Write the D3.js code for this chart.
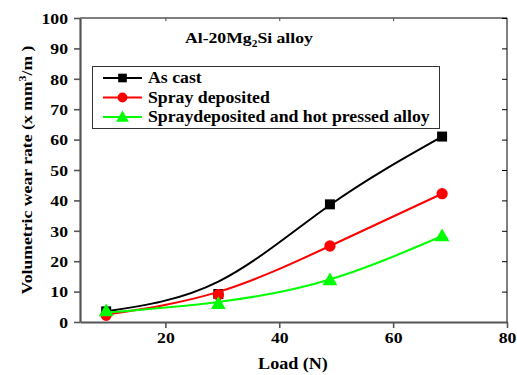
<!DOCTYPE html>
<html><head><meta charset="utf-8">
<script src="https://cdn.jsdelivr.net/npm/d3@7"></script>
<style>
body{margin:0;background:#fff;}
svg text{font-family:"Liberation Serif","Times New Roman",Times,serif;font-weight:bold;fill:#000;}
</style></head>
<body><svg id="c" width="517" height="375"></svg>
<script>
// Data
const loads = [9.6, 29.3, 48.9, 68.6];
const asCast = [3.5, 9.2, 38.7, 61.0];
const sprayDep = [2.2, 9.0, 25.0, 42.2];
const sprayHot = [3.6, 6.0, 13.8, 28.3];
// fitted trend curves (as drawn in the reference)
const asCastFit = [3.5, 13.3, 38.5, 61.0];
const sprayDepFit = [2.4, 9.9, 25.0, 42.2];
const sprayHotFit = [3.1, 6.6, 14.0, 28.3];
const xTicks = [20, 40, 60, 80];
const yTicks = [0, 10, 20, 30, 40, 50, 60, 70, 80, 90, 100];
const seriesNames = ["As cast", "Spray deposited", "Spraydeposited and hot pressed alloy"];
const seriesColors = ["#000000", "#ff0000", "#00ff00"];
const seriesMarkers = ["square", "circle", "triangle"];

const FONT = '"Liberation Serif","Times New Roman",Times,serif';
const svg = d3.select("#c");
const m = {l:80, r:10, t:18, b:53};
const W = 517, H = 375;
const x = d3.scaleLinear().domain([5, 80]).range([m.l, W - m.r]);
const y = d3.scaleLinear().domain([0, 100]).range([H - m.b, m.t]);

// helper: horizontally stretched text (reference font is wide)
function wideText(px, py, size, sx, rot) {
  const g = svg.append("g").attr("transform", `translate(${px},${py})` + (rot ? ` rotate(${rot})` : "") + ` scale(${sx},1)`);
  return g.append("text").style("font-family", FONT).style("font-size", size + "px");
}

// frame: top & right thin black
svg.append("line").attr("x1", x(5)).attr("x2", x(80)).attr("y1", y(100)).attr("y2", y(100)).attr("stroke","#000").attr("stroke-width",1);
svg.append("line").attr("x1", x(80)).attr("x2", x(80)).attr("y1", y(100)).attr("y2", y(0)).attr("stroke","#000").attr("stroke-width",1);
// right inward ticks
svg.append("g").attr("transform", `translate(${x(80)},0)`)
  .call(d3.axisLeft(y).tickValues(yTicks).tickSize(5).tickFormat(""))
  .call(g => { g.select(".domain").remove(); g.selectAll("line").attr("stroke","#000"); });
// top inward ticks
svg.append("g").attr("transform", `translate(0,${y(100)})`)
  .call(d3.axisBottom(x).tickValues([20,40,60]).tickSize(3).tickFormat(""))
  .call(g => { g.select(".domain").remove(); g.selectAll("line").attr("stroke","#444"); });

const TS = 1.22; // tick label stretch
// left axis
const gy = svg.append("g").attr("transform", `translate(${x(5)},0)`)
  .call(d3.axisLeft(y).tickValues(yTicks).tickSize(6).tickSizeOuter(0));
gy.select(".domain").attr("stroke","#555").attr("stroke-width",2.2);
gy.selectAll(".tick line").attr("stroke","#555").attr("stroke-width",1.6);
gy.selectAll(".tick text").style("font-size","14.5px").style("font-family", FONT)
  .attr("x", -12 / TS).attr("dy","0.36em").attr("transform", `scale(${TS},1)`);

// bottom axis
const gx = svg.append("g").attr("transform", `translate(0,${y(0)})`)
  .call(d3.axisBottom(x).tickValues(xTicks).tickSize(6).tickSizeOuter(0));
gx.select(".domain").attr("stroke","#555").attr("stroke-width",2.2);
gx.selectAll(".tick line").attr("stroke","#555").attr("stroke-width",1.6);
gx.selectAll(".tick text").style("font-size","14.5px").style("font-family", FONT)
  .attr("y", 11).attr("transform", `scale(${TS},1)`);

// axis titles
wideText(293, 369, 16, 1.13).attr("text-anchor","middle").text("Load (N)");
const yl = wideText(32, 170, 15, 1.18, -90).attr("text-anchor","middle");
yl.append("tspan").text("Volumetric wear rate (x mm");
yl.append("tspan").attr("dy",-6).style("font-size","10px").text("3");
yl.append("tspan").attr("dy",6).text("/m )");

// chart title
const t = wideText(185, 43, 15.5, 1.14);
t.append("tspan").text("Al-20Mg");
t.append("tspan").attr("dy",4).style("font-size","10px").text("2");
t.append("tspan").attr("dy",-4).text("Si alloy");

// series
const valsAll = [asCast, sprayDep, sprayHot];
const fitsAll = [asCastFit, sprayDepFit, sprayHotFit];
const line = d3.line().x(d => x(d[0])).y(d => y(d[1])).curve(d3.curveNatural);
const sym = {square: d3.symbolSquare, circle: d3.symbolCircle, triangle: d3.symbolTriangle};
const symSize = {square: 100, circle: 100, triangle: 95};

function drawMarker(g, kind, cx, cy, color, scale) {
  g.append("path").attr("d", d3.symbol().type(sym[kind]).size(symSize[kind] * (scale||1))())
    .attr("transform", `translate(${cx},${cy + (kind === "triangle" ? 1 : 0)})`).attr("fill", color);
}

valsAll.forEach((vals, i) => {
  const g = svg.append("g");
  g.append("path").datum(loads.map((l, j) => [l, fitsAll[i][j]]))
    .attr("d", line).attr("fill","none").attr("stroke", seriesColors[i]).attr("stroke-width", 2);
  loads.forEach((l, j) => drawMarker(g, seriesMarkers[i], x(l), y(vals[j]), seriesColors[i]));
});

// legend
const lg = svg.append("g");
lg.append("rect").attr("x", 92.5).attr("y", 66.5).attr("width", 347).attr("height", 62)
  .attr("fill","#fff").attr("stroke","#333").attr("stroke-width",1);
seriesNames.forEach((n, i) => {
  const cy = 78 + i * 19.5;
  lg.append("line").attr("x1", 103).attr("x2", 142).attr("y1", cy).attr("y2", cy)
    .attr("stroke", seriesColors[i]).attr("stroke-width", 2);
  drawMarker(lg, seriesMarkers[i], 122.5, cy, seriesColors[i], 0.75);
  const g = lg.append("g").attr("transform", `translate(148,${cy + 5.3}) scale(1.11,1)`);
  g.append("text").style("font-family", FONT).style("font-size","16px").text(n);
});
</script></body></html>
